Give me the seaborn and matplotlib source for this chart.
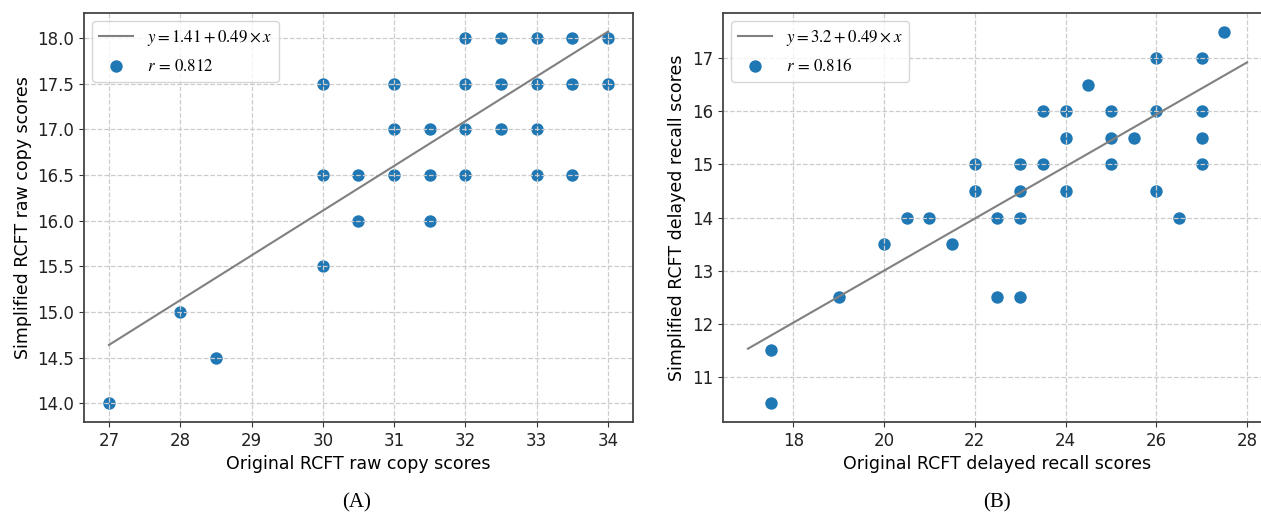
import seaborn as sns
import matplotlib.pyplot as plt
import numpy as np
import pandas as pd

# (A) raw copy scores
copy_orig = [32, 32.5, 33, 33.5, 34,
             30, 31, 32, 32.5, 33, 33.5, 34,
             31, 31.5, 32, 32.5, 33,
             30, 30.5, 31, 31.5, 32, 33, 33.5,
             30.5, 31.5,
             30, 28, 28.5, 27]
copy_simp = [18, 18, 18, 18, 18,
             17.5, 17.5, 17.5, 17.5, 17.5, 17.5, 17.5,
             17, 17, 17, 17, 17,
             16.5, 16.5, 16.5, 16.5, 16.5, 16.5, 16.5,
             16, 16,
             15.5, 15, 14.5, 14]
copy_fit = (1.41, 0.49)
copy_r = 0.812
copy_xrange = (27, 34)

# (B) delayed recall scores
recall_orig = [27.5, 26, 27, 24.5,
               23.5, 24, 25, 26, 27,
               24, 25, 25.5, 27,
               22, 23, 23.5, 25, 27,
               22, 23, 24, 26,
               20.5, 21, 22.5, 23, 26.5,
               20, 21.5,
               19, 22.5, 23,
               17.5, 17.5]
recall_simp = [17.5, 17, 17, 16.5,
               16, 16, 16, 16, 16,
               15.5, 15.5, 15.5, 15.5,
               15, 15, 15, 15, 15,
               14.5, 14.5, 14.5, 14.5,
               14, 14, 14, 14, 14,
               13.5, 13.5,
               12.5, 12.5, 12.5,
               11.5, 10.5]
recall_fit = (3.2, 0.49)
recall_r = 0.816
recall_xrange = (17, 28)

plt.rcParams['mathtext.fontset'] = 'stix'
plt.rcParams['font.family'] = ['DejaVu Sans']

fig = plt.figure(figsize=(12.61, 5.19), dpi=100)
axA = fig.add_axes([84 / 1261, 97 / 519, 549 / 1261, 409 / 519])
axB = fig.add_axes([723 / 1261, 97 / 519, 549 / 1261, 409 / 519])


def panel(ax, xs, ys, fit, r, xrange_, xlabel, ylabel, fitlabel):
    df = pd.DataFrame({"x": xs, "y": ys})
    a, b = fit
    xl = np.array(xrange_, dtype=float)
    line = pd.DataFrame({"x": xl, "y": a + b * xl})
    sns.scatterplot(data=df, x="x", y="y", ax=ax, color="#1f77b4", s=80,
                    linewidth=0, zorder=1)
    sns.lineplot(data=line, x="x", y="y", ax=ax, color="gray", lw=1.5, zorder=2)
    ax.set_axisbelow('line')
    ax.grid(True, color='#cccccc', linestyle='--', linewidth=0.9)
    ax.set_xlabel(xlabel, fontsize=12.5)
    ax.set_ylabel(ylabel, fontsize=12.5)
    ax.tick_params(labelsize=12, color='#333333', labelcolor='#222222')
    for sp in ax.spines.values():
        sp.set_color('#444444')
        sp.set_linewidth(1.3)
    ax.margins(0.05)
    h_line = ax.lines[0]
    h_pts = ax.collections[0]
    ax.legend([h_line, h_pts], [fitlabel, r"$r\, =\, %.3f$" % r],
              loc='upper left', fontsize=12.2, handlelength=2.0,
              borderaxespad=0.5)


panel(axA, copy_orig, copy_simp, copy_fit, copy_r, copy_xrange,
      "Original RCFT raw copy scores", "Simplified RCFT raw copy scores",
      r"$y = 1.41 + 0.49 \times x$")
panel(axB, recall_orig, recall_simp, recall_fit, recall_r, recall_xrange,
      "Original RCFT delayed recall scores", "Simplified RCFT delayed recall scores",
      r"$y = 3.2 + 0.49 \times x$")

axA.set_xticks(np.arange(27, 35, 1))
axB.set_xticks(np.arange(18, 29, 2))

fig.text(357 / 1261, 1 - 503 / 519, "(A)", ha='center', va='center',
         family='Liberation Serif', fontsize=15)
fig.text(997 / 1261, 1 - 503 / 519, "(B)", ha='center', va='center',
         family='Liberation Serif', fontsize=15)

fig.savefig("out.png", dpi=100)
